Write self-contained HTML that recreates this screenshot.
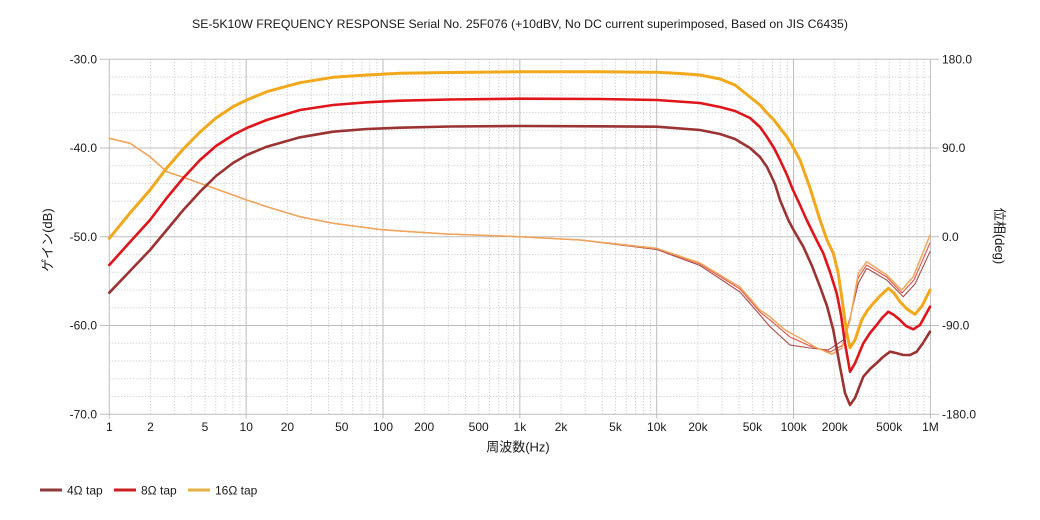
<!DOCTYPE html>
<html><head><meta charset="utf-8"><style>
html,body{margin:0;padding:0;background:#fff;}
svg{display:block;}
text{font-family:"Liberation Sans","Noto Sans CJK JP",sans-serif;fill:#1a1a1a;}
</style></head><body>
<svg width="1040" height="520" viewBox="0 0 1040 520" xmlns="http://www.w3.org/2000/svg">
<rect width="1040" height="520" fill="#fff"/>
<text x="520" y="28" font-size="12" text-anchor="middle" textLength="656" lengthAdjust="spacingAndGlyphs">SE-5K10W FREQUENCY RESPONSE Serial No. 25F076 (+10dBV,  No DC current superimposed,  Based on JIS C6435)</text>
<defs>
<g id="d" stroke="#c4c4c4" stroke-width="1" stroke-dasharray="1 2">
<line x1="41.2" y1="59.3" x2="41.2" y2="414.3"/>
<line x1="65.3" y1="59.3" x2="65.3" y2="414.3"/>
<line x1="82.4" y1="59.3" x2="82.4" y2="414.3"/>
<line x1="95.7" y1="59.3" x2="95.7" y2="414.3"/>
<line x1="106.5" y1="59.3" x2="106.5" y2="414.3"/>
<line x1="115.7" y1="59.3" x2="115.7" y2="414.3"/>
<line x1="123.6" y1="59.3" x2="123.6" y2="414.3"/>
<line x1="130.6" y1="59.3" x2="130.6" y2="414.3"/>
</g>
</defs>
<use href="#d" x="109.3"/><use href="#d" x="246.15"/><use href="#d" x="383"/><use href="#d" x="519.85"/><use href="#d" x="656.7"/><use href="#d" x="793.55"/>
<g stroke="#c4c4c4" stroke-width="1" stroke-dasharray="1 2">
<line x1="109.3" y1="77.05" x2="930.4" y2="77.05"/>
<line x1="109.3" y1="94.8" x2="930.4" y2="94.8"/>
<line x1="109.3" y1="112.55" x2="930.4" y2="112.55"/>
<line x1="109.3" y1="130.3" x2="930.4" y2="130.3"/>
<line x1="109.3" y1="165.8" x2="930.4" y2="165.8"/>
<line x1="109.3" y1="183.55" x2="930.4" y2="183.55"/>
<line x1="109.3" y1="201.3" x2="930.4" y2="201.3"/>
<line x1="109.3" y1="219.05" x2="930.4" y2="219.05"/>
<line x1="109.3" y1="254.55" x2="930.4" y2="254.55"/>
<line x1="109.3" y1="272.3" x2="930.4" y2="272.3"/>
<line x1="109.3" y1="290.05" x2="930.4" y2="290.05"/>
<line x1="109.3" y1="307.8" x2="930.4" y2="307.8"/>
<line x1="109.3" y1="343.3" x2="930.4" y2="343.3"/>
<line x1="109.3" y1="361.05" x2="930.4" y2="361.05"/>
<line x1="109.3" y1="378.8" x2="930.4" y2="378.8"/>
<line x1="109.3" y1="396.55" x2="930.4" y2="396.55"/>
</g>
<g stroke="#bdbdbd" stroke-width="1">
<line x1="100" y1="59.3" x2="939" y2="59.3"/>
<line x1="100" y1="148.05" x2="939" y2="148.05"/>
<line x1="100" y1="236.8" x2="939" y2="236.8"/>
<line x1="100" y1="325.55" x2="939" y2="325.55"/>
<line x1="100" y1="414.3" x2="939" y2="414.3"/>
<line x1="109.3" y1="59.3" x2="109.3" y2="418.5"/>
<line x1="246.15" y1="59.3" x2="246.15" y2="418.5"/>
<line x1="383" y1="59.3" x2="383" y2="418.5"/>
<line x1="519.85" y1="59.3" x2="519.85" y2="418.5"/>
<line x1="656.7" y1="59.3" x2="656.7" y2="418.5"/>
<line x1="793.55" y1="59.3" x2="793.55" y2="418.5"/>
<line x1="930.4" y1="59.3" x2="930.4" y2="418.5"/>
</g>
<g font-size="12" text-anchor="end">
<text x="97" y="63.5">-30.0</text>
<text x="97" y="152.2">-40.0</text>
<text x="97" y="241">-50.0</text>
<text x="97" y="329.7">-60.0</text>
<text x="97" y="418.5">-70.0</text>
</g>
<g font-size="12" text-anchor="start">
<text x="942" y="63.5">180.0</text>
<text x="942" y="152.2">90.0</text>
<text x="942" y="241">0.0</text>
<text x="942" y="329.7">-90.0</text>
<text x="942" y="418.5">-180.0</text>
</g>
<g font-size="12" text-anchor="middle">
<text x="109.3" y="431">1</text>
<text x="150.5" y="431">2</text>
<text x="205" y="431">5</text>
<text x="246.2" y="431">10</text>
<text x="287.4" y="431">20</text>
<text x="341.8" y="431">50</text>
<text x="383" y="431">100</text>
<text x="424.2" y="431">200</text>
<text x="478.7" y="431">500</text>
<text x="519.9" y="431">1k</text>
<text x="561.1" y="431">2k</text>
<text x="615.5" y="431">5k</text>
<text x="656.7" y="431">10k</text>
<text x="697.9" y="431">20k</text>
<text x="752.4" y="431">50k</text>
<text x="793.6" y="431">100k</text>
<text x="834.8" y="431">200k</text>
<text x="889.2" y="431">500k</text>
<text x="930.4" y="431">1M</text>
</g>
<text x="518" y="451.5" font-size="13" text-anchor="middle">周波数(Hz)</text>
<text transform="translate(52,240) rotate(-90)" font-size="13" text-anchor="middle">ゲイン(dB)</text>
<text transform="translate(995,236) rotate(90)" font-size="13" text-anchor="middle">位相(deg)</text>

<!-- phase curves -->
<g fill="none" stroke-linejoin="round" stroke-linecap="round">
<polyline stroke="#a9504f" stroke-width="1.2" stroke-dasharray="1.5 1" points="109.3,138.3 130,143.3 150,156.7 166.7,171.7 183.3,177.3 200,183.3 233,195 246.7,200 266.7,206.7 300,216.7 333,223.3 366.7,227.7 380,229.5 400,231 446.7,234 520,236.7 580,240 656.7,249.5 700,265.5 740,292 760,315 770,326.7 790,345 810,348 828.3,350 843.3,340 850,318 858.3,283.3 866.7,268.3 886.7,280 903.3,296.7 915,284 930,251.7"/>
<polyline stroke="#e25a50" stroke-width="1.2" stroke-dasharray="1.5 1" points="109.3,138.3 130,143.3 150,156.7 166.7,171.7 183.3,177.3 200,183.3 233,195 246.7,200 266.7,206.7 300,216.7 333,223.3 366.7,227.7 380,229.5 400,231 446.7,234 520,236.7 580,240 656.7,248.8 700,264 740,289 760,312 770,320 790,337 810,346 830,352 843,345 850,320 858,278 866.7,265 886.7,277 902,293 914,280 930,243"/>
<polyline stroke="#f2a65a" stroke-width="1.5" points="109.3,138.3 130,143.3 150,156.7 166.7,171.7 183.3,177.3 200,183.3 233,195 246.7,200 266.7,206.7 300,216.7 333,223.3 366.7,227.7 380,229.5 400,231 446.7,234 520,236.7 580,240 656.7,248.3 700,263 740,287 760,310 770,316.7 785,330 803.3,340 815,347 831.7,354.3 841.7,348.3 850,320 858.3,273.3 866.7,261.7 886.7,275 901.7,290 913.3,276.7 930,235"/>
</g>

<!-- gain curves -->
<g fill="none" stroke-linejoin="round" stroke-linecap="round">
<polyline stroke="#9b3333" stroke-width="2.6" points="109.3,292.7 130,271 150,250 166.7,230 183.3,210 200,191.7 216,176 233,163 246.7,155 266.7,146.7 300,137.3 333,131.7 366.7,129 400,127.7 450,126.5 520,126 600,126.3 656.7,126.7 700,130 720,134 735,139 750,148 760,157 767,167 775,184 780,200 788.3,220 793,229 803.3,246.7 812,266 820,286.7 827,306 833.3,330 840,366.7 845,393 850,405 855,398 863.3,376.7 870,369 876.7,363 883,357 890,351.7 896,353 903.3,355 910,355 916.7,351.7 923,343 930,331.7"/>
<polyline stroke="#e0141b" stroke-width="2.6" points="109.3,265 130,242 150,220 166.7,198 183.3,178 200,160 216,146 233,135 246.7,128 266.7,120 300,110 333,105 366.7,102.3 400,100.7 450,99.5 520,98.7 600,99 656.7,100 700,103 720,107 735,111 750,118 760,127 767,137 774,148 780,160 787,175 793,190 800,205 806.7,220 815,237 823.3,253.3 830,272 836.7,293.3 841,315 845,343.3 850,371.7 855,363.3 863.3,343.3 870,333 876.7,325 882,318 888.3,311.7 894,315 900,320 906,326 913.3,329.3 920,325 930,306.7"/>
<polyline stroke="#f2a81b" stroke-width="3" points="109.3,238.3 130,213 150,190 166.7,168 183.3,149 200,132 216,118 233,106.7 246.7,100 266.7,91.7 300,82.7 333,77.3 366.7,75 400,73.3 450,72.5 520,71.7 600,71.8 656.7,72.3 680,73.5 700,75 720,79 735,85 750,97 760,105 767,113 774,120 780,128 787,137 793,147 800,160 810,188 820,220 827,240 833.3,253.3 838,272 841.7,296.7 846.7,333 850,347.7 855,340 861.7,320 867,311 873.3,303.3 880,296 888.3,288.3 894,293 900,301.7 907,309 915,314.3 922,306 930,290"/>
</g>

<!-- legend -->
<g stroke-width="3">
<line x1="40" y1="490" x2="62" y2="490" stroke="#8e3a3a"/>
<line x1="114" y1="490" x2="136" y2="490" stroke="#c8201f"/>
<line x1="188" y1="490" x2="210" y2="490" stroke="#e4b145"/>
</g>
<g font-size="12">
<text x="67" y="494.5">4Ω tap</text>
<text x="141" y="494.5">8Ω tap</text>
<text x="215" y="494.5">16Ω tap</text>
</g>
</svg>
</body></html>
